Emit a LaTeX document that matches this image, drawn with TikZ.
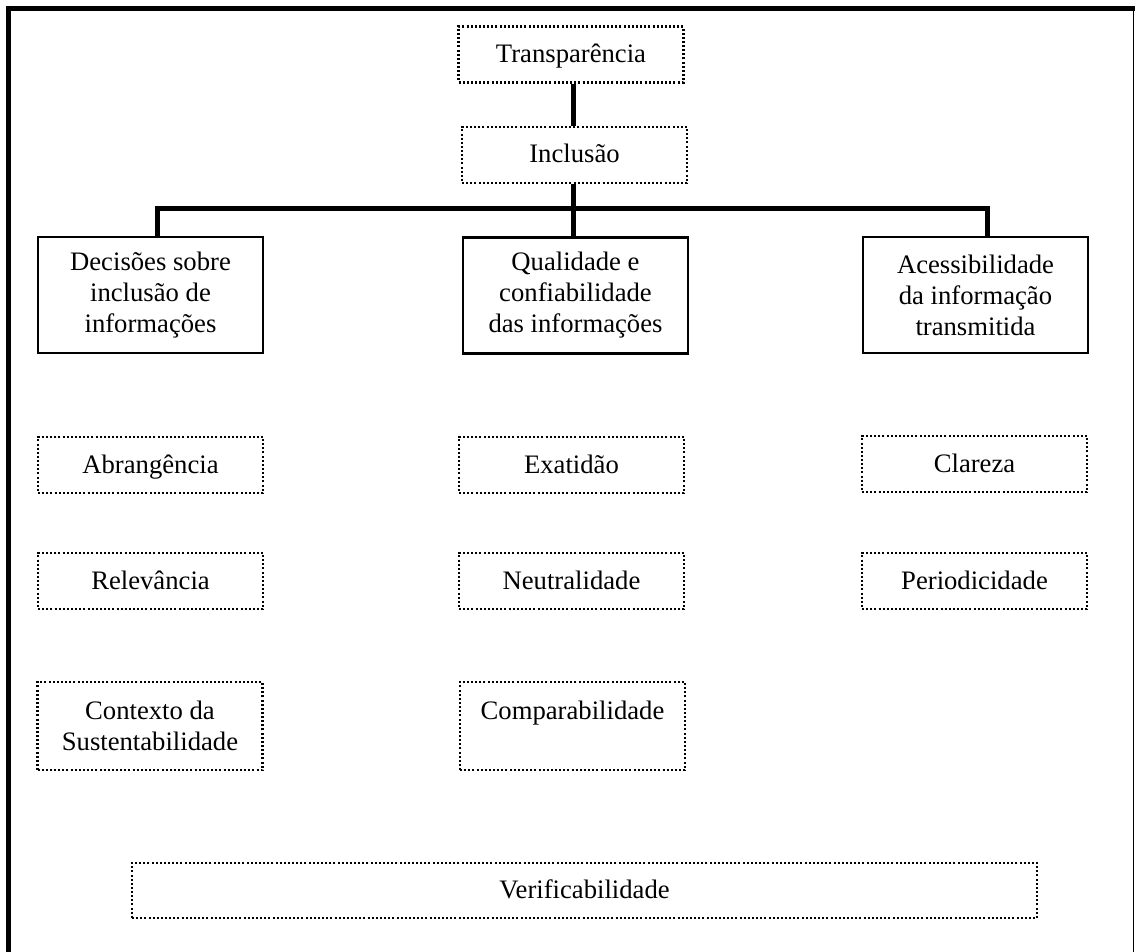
\documentclass[tikz,border=0pt]{standalone}
\usepackage{fontspec}
\setmainfont{Liberation Serif}
\usepackage{tikz}
\usetikzlibrary{positioning, calc}

\begin{document}
\begin{tikzpicture}[x=0.75pt, y=-0.75pt,
    every node/.style={font=\fontsize{20}{23.3}\selectfont, align=center, inner sep=0pt},
    solidbox/.style={draw, line width=2pt, minimum width=225*0.75pt, minimum height=116*0.75pt},
    dotbox/.style={draw, line width=1.9pt, dash pattern=on 1.5pt off 1.6pt,
                   minimum width=225*0.75pt, minimum height=56*0.75pt},
    oneline/.style={text height=15pt, text depth=3pt},
    conn/.style={line width=3.75pt, line join=miter}]

    % Page size
    \useasboundingbox (0,0) rectangle (1135,952);

    % Frame
    \draw[line width=3.75pt, line join=miter] (8.5,952) -- (8.5,8.5) -- (1135,8.5);
    \draw[line width=1.2pt] (1133.5,8.5) -- (1133.5,952);

    % Top of the tree
    \node[dotbox, oneline] (transp) at (571,54.5) {Transpar\^encia};
    \node[dotbox, oneline] (incl) at (574.5,155) {Inclus\~ao};

    % Three groups
    \node[solidbox] (decis) at (150.5,295) {Decis\~oes sobre\\inclus\~ao de\\informa\c{c}\~oes};
    \node[solidbox] (qual) at (575.5,295.5) {Qualidade e\\confiabilidade\\das informa\c{c}\~oes};
    \node[solidbox] (acess) at (975.5,295) {Acessibilidade\\da informa\c{c}\~ao\\transmitida};

    % Left column
    \node[dotbox, oneline] (abran) at (150.5,465) {Abrang\^encia};
    \node[dotbox, oneline] (relev) at (150.5,581) {Relev\^ancia};
    \node[dotbox, minimum height=88*0.75pt] (contx) at (150,726) {Contexto da\\Sustentabilidade};

    % Middle column
    \node[dotbox, oneline] (exat) at (571.5,465) {Exatid\~ao};
    \node[dotbox, oneline] (neutr) at (571.5,581) {Neutralidade};
    \node[dotbox, minimum height=88*0.75pt] (compar) at (572.5,726) {Comparabilidade\\\mbox{}};

    % Right column
    \node[dotbox, oneline] (clar) at (974.5,464) {Clareza};
    \node[dotbox, oneline] (period) at (974.5,581) {Periodicidade};

    % Bottom
    \node[dotbox, oneline, minimum width=905*0.75pt, minimum height=55*0.75pt] (verif) at (584.5,890.5) {Verificabilidade};

    % Connectors
    \coordinate (hub) at (573,209);
    \coordinate (dropL) at (157,237);
    \coordinate (dropR) at (987,237);
    \draw[conn] (transp.south -| hub) -- (incl.north -| hub);
    \draw[conn] (incl.south -| hub) -- (hub);
    \draw[conn] (dropL) |- (hub) -| (dropR);
    \draw[conn] (hub) -- (qual.north -| hub);

\end{tikzpicture}
\end{document}
